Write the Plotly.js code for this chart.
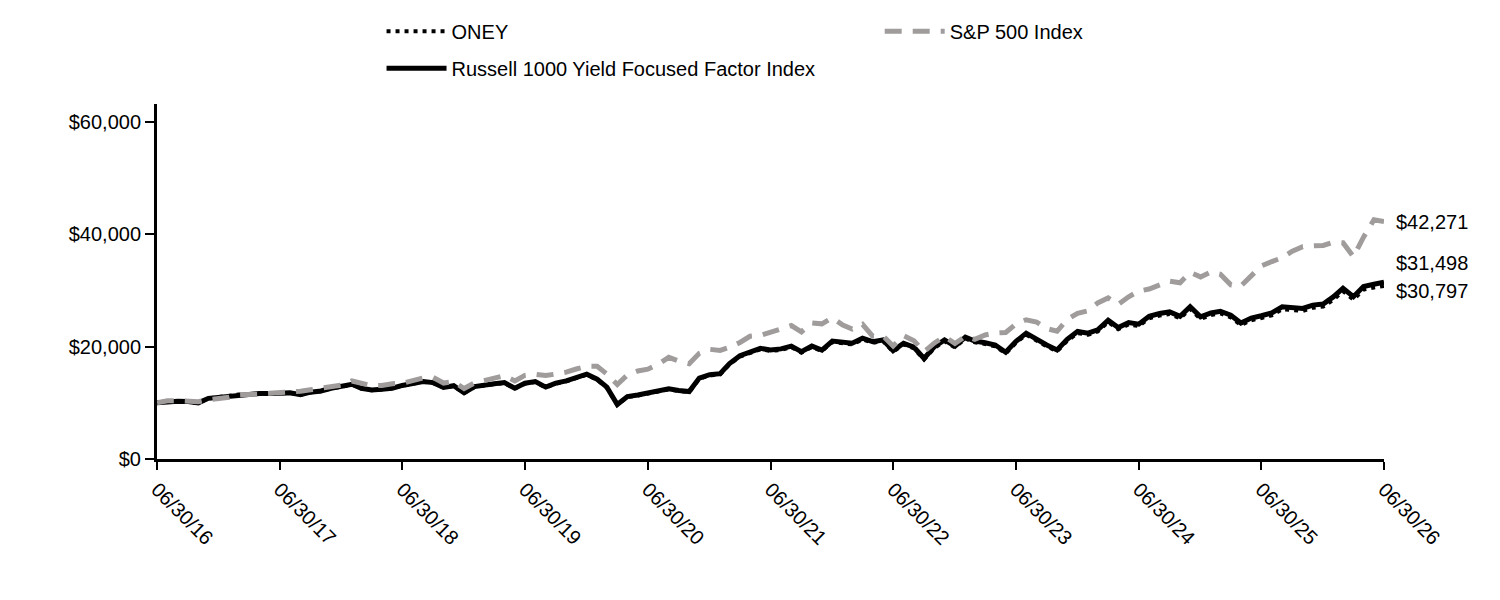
<!DOCTYPE html>
<html>
<head>
<meta charset="utf-8">
<script src="https://cdn.plot.ly/plotly-3.0.1.min.js"></script>
<style>
  body { margin: 0; background: #fff; }
  #divGraph { width: 1500px; height: 600px; }
</style>
</head>
<body>
<div id="divGraph"></div>
<script>
// growth of $10,000, month ends 06/30/16 .. 06/30/26
var oney = [
  10000, 10240, 10290, 10230, 9990, 10780, 10980, 11180, 11480, 11470, 11620, 11570,
  11670, 11770, 11420, 11860, 12060, 12560, 12850, 13250, 12550, 12250, 12350, 12550,
  13040, 13440, 13740, 13530, 12690, 12980, 11740, 12830, 13130, 13320, 13520, 12530,
  13420, 13710, 12720, 13410, 13810, 14400, 15000, 14100, 12710, 9630, 11020, 11310,
  11610, 11910, 12400, 12100, 11900, 14280, 14880, 15070, 16860, 18250, 18940, 19530,
  19230, 19420, 19920, 18930, 19920, 19220, 20810, 20600, 20400, 21290, 20690, 20990,
  19100, 20390, 19690, 17710, 19790, 20970, 19880, 21460, 20760, 20460, 20060, 18770,
  20650, 22130, 21040, 20050, 19160, 21030, 22410, 22110, 22700, 24380, 23090, 23970,
  23670, 25050, 25540, 25830, 25040, 26710, 24930, 25620, 25910, 25210, 23830, 24710,
  25100, 25590, 26660, 26460, 26360, 26940, 27130, 28400, 29870, 28390, 30150, 30520,
  30797
];
var russell = [
  10000, 10250, 10300, 10250, 10000, 10800, 11000, 11200, 11500, 11500, 11650, 11600,
  11700, 11800, 11450, 11900, 12100, 12600, 12900, 13300, 12600, 12300, 12400, 12600,
  13100, 13500, 13800, 13600, 12750, 13050, 11800, 12900, 13200, 13400, 13600, 12600,
  13500, 13800, 12800, 13500, 13900, 14500, 15100, 14200, 12800, 9700, 11100, 11400,
  11700, 12000, 12500, 12200, 12000, 14400, 15000, 15200, 17000, 18400, 19100, 19700,
  19400, 19600, 20100, 19100, 20100, 19400, 21000, 20800, 20600, 21500, 20900, 21200,
  19300, 20600, 19900, 17900, 20000, 21200, 20100, 21700, 21000, 20700, 20300, 19000,
  20900, 22400, 21300, 20300, 19400, 21300, 22700, 22400, 23000, 24700, 23400, 24300,
  24000, 25400, 25900, 26200, 25400, 27100, 25300, 26000, 26300, 25600, 24200, 25100,
  25500, 26000, 27100, 26900, 26800, 27400, 27600, 28900, 30400, 28900, 30700, 31100,
  31498
];
var sp500 = [
  10000, 10360, 10380, 10380, 10190, 10570, 10780, 10980, 11410, 11430, 11540, 11700,
  11790, 12030, 12070, 12320, 12600, 12990, 13140, 13890, 13380, 13040, 13090, 13410,
  13480, 13980, 14430, 14510, 13520, 13790, 12540, 13550, 13990, 14260, 14840, 13900,
  14880, 15090, 14850, 15130, 15460, 16020, 16500, 16490, 15130, 13260, 14960, 15670,
  15990, 16890, 18100, 17420, 16950, 18810, 19530, 19330, 19870, 20740, 21850, 22000,
  22510, 23050, 23750, 22640, 24230, 24060, 25140, 23840, 23120, 23980, 21880, 21920,
  20110, 21950, 21050, 19110, 20660, 21810, 20550, 21840, 21300, 22080, 22430, 22530,
  24010, 24780, 24390, 23230, 22740, 24820, 25950, 26380, 27790, 28680, 27510, 28880,
  29900, 30260, 31000, 31660, 31370, 33210, 32420, 33320, 32890, 31000, 30780, 32720,
  34390, 35150, 35830, 37000, 37810, 37960, 38020, 38600, 38500, 36000, 39500, 42600,
  42271
];
var endLabels = ['$42,271', '$31,498', '$30,797'];
var tickLabels = ['06/30/16','06/30/17','06/30/18','06/30/19','06/30/20','06/30/21',
                  '06/30/22','06/30/23','06/30/24','06/30/25','06/30/26'];
var yTickVals = [0, 20000, 40000, 60000];
var yTickLabels = ['$0', '$20,000', '$40,000', '$60,000'];

function monthEnds(n){
  var out = [];
  for (var m = 0; m < n; m++){
    var d = new Date(Date.UTC(2016, 6 + m, 0));
    out.push(d.toISOString().slice(0, 10));
  }
  return out;
}
var X = monthEnds(oney.length);
var tickVals = [];
for (var y = 2016; y <= 2026; y++) tickVals.push(y + '-06-30');

var FONT = 'Liberation Sans, Arial, sans-serif';
var FS = 20;

var traceOney = {
  x: X, y: oney, type: 'scatter', mode: 'lines', name: 'ONEY',
  line: { color: '#000000', width: 4, dash: '4px,5px' },
  legend: 'legend', legendgroup: 'a', legendrank: 1
};
var traceRussell = {
  x: X, y: russell, type: 'scatter', mode: 'lines', name: 'Russell 1000 Yield Focused Factor Index',
  line: { color: '#000000', width: 5 },
  legend: 'legend', legendgroup: 'b', legendrank: 2
};
var traceSP = {
  x: X, y: sp500, type: 'scatter', mode: 'lines', name: 'S&P 500 Index',
  line: { color: '#a09c9c', width: 5, dash: '17px,11px' },
  legend: 'legend2', legendgroup: 'c'
};

var last = X[X.length - 1];
var layout = {
  width: 1500, height: 600,
  paper_bgcolor: '#fff', plot_bgcolor: '#fff',
  font: { family: FONT, size: FS, color: '#000' },
  margin: { l: 157, r: 116, t: 104, b: 141 },
  showlegend: true,
  legend: {
    x: 0.183, y: 1.26, xanchor: 'left', yanchor: 'top',
    orientation: 'v', tracegroupgap: 8, itemwidth: 60,
    font: { family: FONT, size: FS, color: '#000' }, bgcolor: 'rgba(0,0,0,0)'
  },
  legend2: {
    x: 0.589, y: 1.26, xanchor: 'left', yanchor: 'top',
    orientation: 'v', itemwidth: 60,
    font: { family: FONT, size: FS, color: '#000' }, bgcolor: 'rgba(0,0,0,0)'
  },
  xaxis: {
    type: 'date',
    range: ['2016-06-30', '2026-06-30'],
    tickvals: tickVals, ticktext: tickLabels,
    tickangle: 45,
    ticks: 'outside', ticklen: 8, tickwidth: 2, tickcolor: '#000',
    showline: true, linewidth: 3, linecolor: '#000',
    showgrid: false, zeroline: false,
    tickfont: { family: FONT, size: FS, color: '#000' }
  },
  yaxis: {
    range: [0, 63200],
    tickvals: yTickVals, ticktext: yTickLabels,
    ticks: 'outside', ticklen: 9, tickwidth: 2, tickcolor: '#000',
    showline: true, linewidth: 3, linecolor: '#000',
    showgrid: false, zeroline: false,
    tickfont: { family: FONT, size: FS, color: '#000' }
  },
  annotations: [
    { x: last, y: sp500[sp500.length - 1], text: endLabels[0], xref: 'x', yref: 'y',
      xanchor: 'left', yanchor: 'middle', xshift: 10, yshift: 0, showarrow: false },
    { x: last, y: russell[russell.length - 1], text: endLabels[1], xref: 'x', yref: 'y',
      xanchor: 'left', yanchor: 'middle', xshift: 10, yshift: 19, showarrow: false },
    { x: last, y: oney[oney.length - 1], text: endLabels[2], xref: 'x', yref: 'y',
      xanchor: 'left', yanchor: 'middle', xshift: 10, yshift: -5, showarrow: false }
  ]
};

Plotly.newPlot('divGraph', [traceOney, traceRussell, traceSP], layout, { displayModeBar: false, staticPlot: true });
</script>
</body>
</html>
